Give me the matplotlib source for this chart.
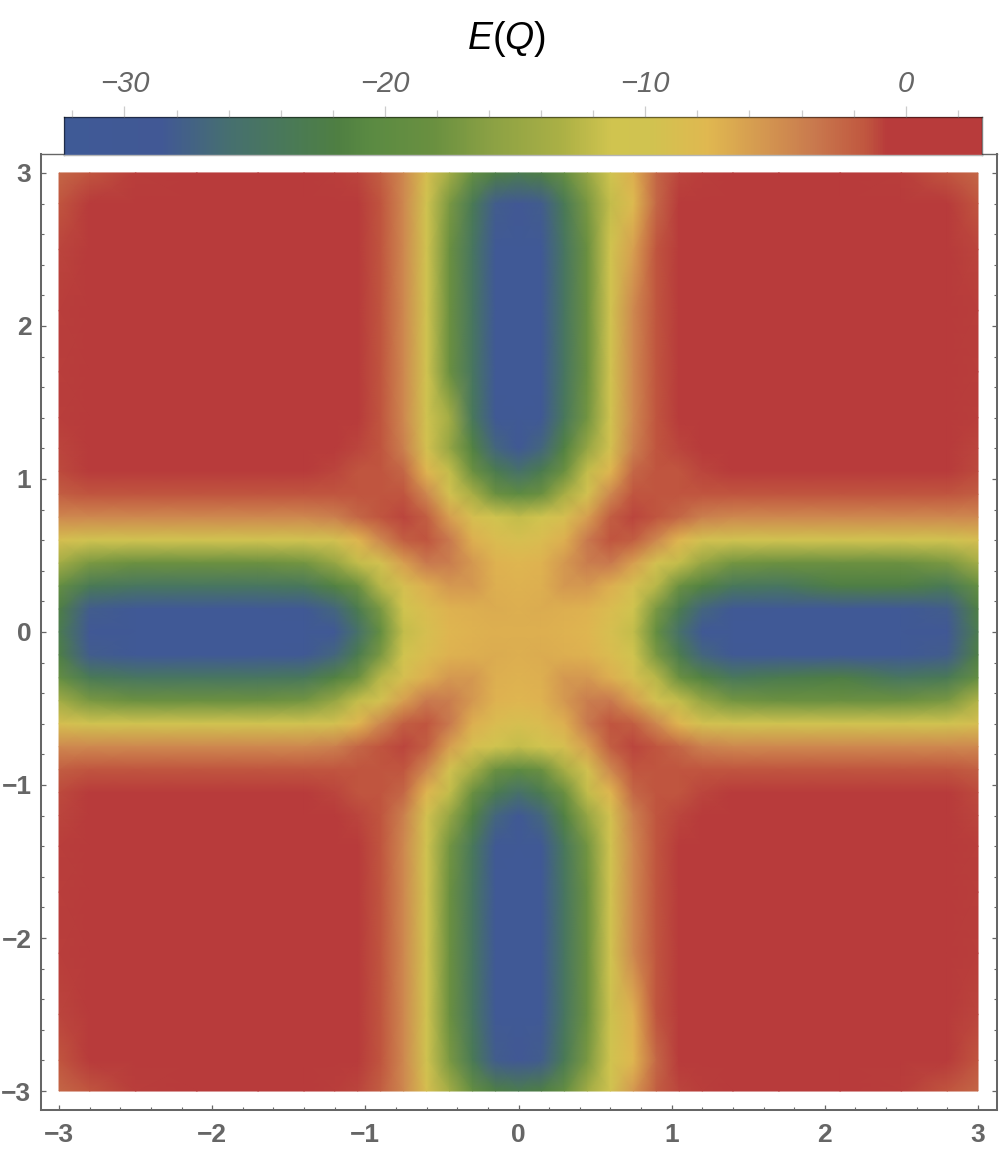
import matplotlib
matplotlib.use("Agg")
import numpy as np
import matplotlib.pyplot as plt
from matplotlib.colors import LinearSegmentedColormap, Normalize
from matplotlib.ticker import MultipleLocator

plt.rcParams["font.family"] = ["Liberation Sans", "DejaVu Sans"]
plt.rcParams["mathtext.fontset"] = "custom"
plt.rcParams["mathtext.rm"] = "Liberation Sans"
plt.rcParams["mathtext.it"] = "Liberation Sans:italic"

W, H = 1000, 1149
GRAY = "#666666"

# -- grid positions of the table below (denser where the arms change quickly)
q_x = [-3, -2.8, -2.5, -2.1, -1.7, -1.4, -1.2, -1.05, -0.9, -0.75, -0.6, -0.45, -0.3, -0.15, 0,
       0.15, 0.3, 0.45, 0.6, 0.75, 0.9, 1.05, 1.2, 1.4, 1.7, 2.1, 2.5, 2.8, 3]
q_y = q_x[::-1]  # rows run from top (y=3) to bottom (y=-3)

# -- E(Q)
energy = [
    [-2.5, -1.5, -.8, -.5, -.5, -.6, -.8, -1, -2, -4.5, -9, -14, -19, -22, -23, -22, -19, -15, -11, -7, -2.5, -1, -.8, -.6, -.5, -.5, -.8, -1.5, -2.5],
    [-1.5, -.2, 1, 1.5, 1.5, 1, .5, -.3, -1.5, -4.5, -10.5, -17, -23.5, -28, -29, -28, -23.5, -17, -12, -8, -2.5, -.3, .5, 1, 1.5, 1.5, 1, -.2, -1.5],
    [-1, 1, 2, 2, 2, 1.5, 1, -.2, -1.5, -4.5, -10.5, -18, -24.5, -30.5, -31, -30.5, -24.5, -18, -11, -6, -1.5, -.2, 1, 1.5, 2, 2, 2, 1, -1],
    [-.8, 1.5, 2, 2, 2, 1.5, 1, -.2, -1.5, -4.5, -10.5, -18, -24.5, -30.5, -31, -30.5, -24.5, -18, -10.5, -4.5, -1.5, -.2, 1, 1.5, 2, 2, 2, 1.5, -.8],
    [-.8, 1.5, 2, 2, 2, 1.5, 1, -.2, -1.5, -4.5, -10.5, -18, -24.5, -30.5, -31, -30.5, -24.5, -18, -10.5, -4.5, -1.5, -.2, 1, 1.5, 2, 2, 2, 1.5, -.8],
    [-.8, 1, 1.5, 1.5, 1.5, 1, .5, -.3, -1.5, -4.5, -10.5, -14, -24, -29.5, -31, -29.5, -24, -17.5, -10.5, -4.5, -1.5, -.3, .5, 1, 1.5, 1.5, 1.5, 1, -.8],
    [-1, .5, 1, 1, 1, .5, -.5, -1, -1.5, -4, -9.5, -15, -21.5, -27, -29.5, -27, -21.5, -15, -9.5, -4, -1.5, -1, -.5, .5, 1, 1, 1, .5, -1],
    [-1.2, -.2, 0, 0, 0, -.3, -1, -1.5, -1.5, -2.5, -7.5, -12, -18, -23, -25.5, -23, -18, -12, -7.5, -2.5, -1.5, -1.5, -1, -.3, 0, 0, 0, -.2, -1.2],
    [-2, -1.5, -1.5, -1.5, -1.5, -1.5, -1.5, -1.5, -1.5, -1.5, -4.5, -9.5, -13.5, -18, -20, -18, -13.5, -9.5, -4.5, -1.5, -1.5, -1.5, -1.5, -1.5, -1.5, -1.5, -1.5, -1.5, -2],
    [-4.5, -4.5, -4.5, -4.5, -4.5, -4.5, -4, -2.5, -1.5, -1, -2, -6, -9, -11, -12, -11, -9, -6, -2, -1, -1.5, -2.5, -4, -4.5, -4.5, -4.5, -4.5, -4.5, -4.5],
    [-9, -10.5, -10.5, -10.5, -10.5, -10.5, -9.5, -7.5, -4.5, -2, -1.5, -3.5, -7, -8.5, -9, -8.5, -7, -3.5, -1.5, -2, -4.5, -7.5, -9.5, -10.5, -10.5, -10.5, -10.5, -10.5, -9],
    [-14, -17, -18, -18, -18, -17.5, -15, -12, -9.5, -6, -3.5, -3.8, -5.5, -7.2, -7.5, -7.2, -5.5, -3.8, -3.5, -6, -9.5, -12, -15, -17.5, -18, -18, -18, -17, -14],
    [-19, -23.5, -24.5, -24.5, -24.5, -24, -21.5, -18, -12.5, -9, -7, -5.5, -5.5, -7, -7.2, -7, -5.5, -5.5, -7, -9, -12.5, -18, -21.5, -24, -24.5, -22, -22, -23.5, -19],
    [-22, -28, -30.5, -30.5, -30.5, -29.5, -27, -23, -17, -11, -8.5, -7.2, -7, -6.8, -7, -6.8, -7, -7.2, -8.5, -11, -17, -23, -27, -29.5, -30.5, -30.5, -30.5, -28, -22],
    [-23, -29, -31, -31, -31, -31, -29.5, -25.5, -19, -12, -9, -7.5, -7.2, -7, -7, -7, -7.2, -7.5, -9, -12, -19, -25.5, -29.5, -31, -31, -31, -31, -29, -23],
    [-22, -28, -30.5, -30.5, -30.5, -29.5, -27, -23, -17, -11, -8.5, -7.2, -7, -6.8, -7, -6.8, -7, -7.2, -8.5, -11, -17, -23, -27, -29.5, -30.5, -30.5, -30.5, -28, -22],
    [-19, -23.5, -24.5, -24.5, -24.5, -24, -21.5, -18, -12.5, -9, -7, -5.5, -5.5, -7, -7.2, -7, -5.5, -5.5, -7, -9, -12.5, -18, -21.5, -24, -23, -22, -24.5, -23.5, -19],
    [-14, -17, -18, -18, -18, -17.5, -15, -12, -9.5, -6, -3.5, -3.8, -5.5, -7.2, -7.5, -7.2, -5.5, -3.8, -3.5, -6, -9.5, -12, -15, -17.5, -18, -18, -18, -17, -13],
    [-9, -10.5, -10.5, -10.5, -10.5, -10.5, -9.5, -7.5, -4.5, -2, -1.5, -3.5, -7, -8.5, -9, -8.5, -7, -3.5, -1.5, -2, -4.5, -7.5, -9.5, -10.5, -10.5, -10.5, -10.5, -10.5, -9],
    [-4.5, -4.5, -4.5, -4.5, -4.5, -4.5, -4, -2.5, -1.5, -1, -2, -6, -9, -11, -12, -11, -9, -6, -2, -1, -1.5, -2.5, -4, -4.5, -4.5, -4.5, -4.5, -4.5, -4.5],
    [-2, -1.5, -1.5, -1.5, -1.5, -1.5, -1.5, -1.5, -1.5, -1.5, -4.5, -9.5, -13.5, -18, -20, -18, -13.5, -9.5, -4.5, -1.5, -1.5, -1.5, -1.5, -1.5, -1.5, -1.5, -1.5, -1.5, -2],
    [-1.2, -.2, 0, 0, 0, -.3, -1, -1.5, -1.5, -2.5, -7.5, -12, -18, -23, -25.5, -23, -18, -12, -7.5, -2.5, -1.5, -1.5, -1, -.3, 0, 0, 0, -.2, -1.2],
    [-1, .5, 1, 1, 1, .5, -.5, -1, -1.5, -4, -9.5, -15, -21.5, -27, -29.5, -27, -21.5, -15, -9.5, -4, -1.5, -1, -.5, .5, 1, 1, 1, .5, -1],
    [-.8, 1, 1.5, 1.5, 1.5, 1, .5, -.3, -1.5, -4.5, -10.5, -17.5, -24, -29.5, -31, -29.5, -24, -17.5, -10.5, -4.5, -1.5, -.3, .5, 1, 1.5, 1.5, 1.5, 1, -.8],
    [-.8, 1.5, 2, 2, 2, 1.5, 1, -.2, -1.5, -4.5, -10.5, -18, -24.5, -30.5, -31, -30.5, -24.5, -18, -10.5, -4.5, -1.5, -.2, 1, 1.5, 2, 2, 2, 1.5, -.8],
    [-.8, 1.5, 2, 2, 2, 1.5, 1, -.2, -1.5, -4.5, -10.5, -18, -24.5, -30.5, -31, -30.5, -24.5, -18, -10.5, -4.5, -1.5, -.2, 1, 1.5, 2, 2, 2, 1.5, -.8],
    [-1, 1, 2, 2, 2, 1.5, 1, -.2, -1.5, -4.5, -10.5, -18, -24.5, -30.5, -31, -30.5, -24.5, -18, -11.5, -7, -1.5, -.2, 1, 1.5, 2, 2, 2, 1, -1],
    [-1.5, -.2, 1, 1.5, 1.5, 1, .5, -.3, -1.5, -4.5, -10.5, -17, -23.5, -28, -29, -28, -23.5, -17, -11, -7.5, -2.5, -.3, .5, 1, 1.5, 1.5, 1, -.2, -1.5],
    [-2.5, -1.5, -.8, -.5, -.5, -.6, -.8, -1, -2, -4.5, -9, -14, -19, -22, -23, -22, -19, -14, -10, -5.5, -2, -1, -.8, -.6, -.5, -.5, -.8, -1.5, -2.5],
]

# -- colour scale stops as seen on the bar legend
cbar_min, cbar_max = -32.32, 2.93
cbar_ticks = [-30, -20, -10, 0]
stop_values = [-32.32, -28.6, -26.05, -23.5, -21.8, -20.6, -18.1, -15.9, -13.2, -11.3, -9.9, -7.6, -5.5, -3.55, -1.5, -0.7, 2.93]
stop_colors = ["#3F5A96", "#415895", "#466F70", "#4A7A55", "#4F7F42", "#5A8A42", "#6A9040", "#8BA144", "#ABB045",
               "#D0C44F", "#D0C350", "#E0B850", "#D49850", "#C97A4E", "#C0563F", "#B83B3B", "#B83B3B"]


def px_axes(left, right, top, bottom):
    # axes placed in picture pixels (y counted from the top)
    return fig.add_axes([left / W, 1 - bottom / H, (right - left) / W, (bottom - top) / H])


fig = plt.figure(figsize=(W / 100, H / 100), dpi=100)

norm = Normalize(cbar_min, cbar_max)
cmap = LinearSegmentedColormap.from_list(
    "eq", [((v - cbar_min) / (cbar_max - cbar_min), c) for v, c in zip(stop_values, stop_colors)], N=512)

ax = px_axes(40.5, 997, 153.5, 1110)
mesh = ax.pcolormesh(q_x, q_y, np.array(energy), cmap=cmap, norm=norm, shading="gouraud", rasterized=True)
ax.set_xlim(-3.121, 3.124)
ax.set_ylim(-3.124, 3.127)
ax.xaxis.set_major_locator(MultipleLocator(1))
ax.yaxis.set_major_locator(MultipleLocator(1))
ax.xaxis.set_minor_locator(MultipleLocator(0.2))
ax.yaxis.set_minor_locator(MultipleLocator(0.2))
ax.tick_params(which="major", direction="in", length=3.5, width=0.9, color=GRAY, left=True, right=True, bottom=True, top=False)
ax.tick_params(which="minor", direction="in", length=2, width=0.8, color=GRAY, left=True, right=True, bottom=True, top=False)
ax.tick_params(axis="x", which="major", pad=9.5, labelsize=19, labelcolor=GRAY)
ax.tick_params(axis="y", which="major", pad=6.5, labelsize=19, labelcolor=GRAY)
for lab in ax.get_xticklabels() + ax.get_yticklabels():
    lab.set_fontweight("bold")
for name, spine in ax.spines.items():
    spine.set_color(GRAY)
    spine.set_linewidth(1.0 if name == "top" else 1.45)

cax = px_axes(64, 982, 117, 155)
cbar = fig.colorbar(mesh, cax=cax, orientation="horizontal")
cbar.set_ticks(cbar_ticks)
cax.xaxis.set_minor_locator(MultipleLocator(2))
cax.xaxis.set_ticks_position("top")
cax.tick_params(which="major", direction="out", length=8, width=0.9, color="#cccccc", pad=5.5, labelsize=21, labelcolor=GRAY)
cax.tick_params(which="minor", direction="out", length=5, width=0.9, color="#cccccc")
for lab in cax.get_xticklabels():
    lab.set_fontstyle("italic")
cbar.outline.set_visible(False)
for name in ["top", "left", "right", "bottom"]:
    spine = cax.spines[name]
    spine.set_visible(True)
    spine.set_color("#b5b5b5" if name == "bottom" else "#00000080")
    spine.set_linewidth(1.0)

fig.text(506 / W, 1 - 49 / H, "$E(Q)$", fontsize=27, color="black", ha="center", va="baseline")

fig.savefig("out.png", dpi=100)
